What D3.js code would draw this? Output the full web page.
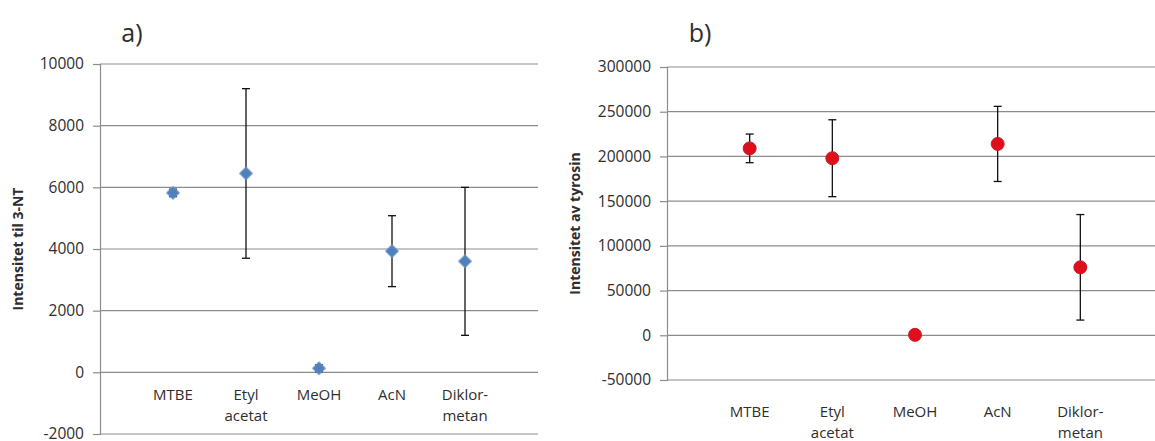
<!DOCTYPE html>
<html>
<head>
<meta charset="utf-8">
<script src="https://cdn.jsdelivr.net/npm/d3@7"></script>
<style>
  html, body { margin: 0; padding: 0; background: #fff; }
  svg { display: block; }
  text { font-family: "Open Sans", "Noto Sans", sans-serif; fill: #2e2e2e; }
</style>
</head>
<body>
<svg id="chart" width="1155" height="441"></svg>
<script>
// Solvents tested (label lines)
const solvents = [["MTBE"], ["Etyl", "acetat"], ["MeOH"], ["AcN"], ["Diklor-", "metan"]];

// a) 3-NT intensity: mean and error (±)
const ntMean = [5820, 6450, 130, 3930, 3600];
const ntErr  = [120, 2750, 110, 1150, 2400];
const ntTicks = [-2000, 0, 2000, 4000, 6000, 8000, 10000];

// b) tyrosine intensity: mean and error (±)
const tyrMean = [209000, 198000, 500, 214000, 76000];
const tyrErr  = [16000, 43000, 0, 42000, 59000];
const tyrTicks = [-50000, 0, 50000, 100000, 150000, 200000, 250000, 300000];

const svg = d3.select("#chart");

const defs = svg.append("defs");
const glow = defs.append("filter").attr("id", "soft").attr("x", "-50%").attr("y", "-50%").attr("width", "200%").attr("height", "200%");
glow.append("feGaussianBlur").attr("in", "SourceGraphic").attr("stdDeviation", 0.7);

// plain integer labels with an ASCII hyphen for negatives
const fmt = d => String(Math.round(d));

function panel(opts) {
  const g = svg.append("g");
  const x = d3.scaleLinear().domain([0, 6]).range(opts.xRange);
  const y = d3.scaleLinear().domain(opts.yDomain).range(opts.yRange);

  // horizontal gridlines
  g.selectAll(".grid").data(opts.ticks).join("line")
    .attr("x1", opts.xRange[0]).attr("x2", opts.xRange[1])
    .attr("y1", d => y(d)).attr("y2", d => y(d))
    .attr("stroke", "#8c8c8c").attr("stroke-width", 1.2);

  // y axis with outward ticks
  const yAxis = d3.axisLeft(y).tickValues(opts.ticks).tickSize(7).tickPadding(9).tickFormat(fmt);
  const ay = g.append("g").attr("transform", `translate(${opts.xRange[0]},0)`).call(yAxis);
  ay.select(".domain").attr("stroke", "#8c8c8c").attr("stroke-width", 1.2);
  ay.selectAll(".tick line").attr("stroke", "#8c8c8c").attr("stroke-width", 1.2);
  ay.selectAll(".tick text").style("font-size", "15.5px").attr("fill", "#2e2e2e");

  // y axis title
  const yMid = (opts.yRange[0] + opts.yRange[1]) / 2;
  g.append("text")
    .attr("transform", `translate(${opts.titleX},${yMid}) rotate(-90)`)
    .attr("text-anchor", "middle").attr("dy", "0.35em")
    .style("font-size", "14px").style("font-weight", "bold").attr("fill", "#111")
    .text(opts.yTitle);

  // panel letter
  g.append("text").attr("x", opts.letterX).attr("y", 42)
    .attr("text-anchor", "middle").style("font-size", "25px").attr("fill", "#111")
    .text(opts.letter);

  // category labels
  const lab = g.selectAll(".cat").data(solvents).join("text")
    .attr("text-anchor", "middle")
    .attr("transform", (d, i) => `translate(${x(i + 1)},${opts.labelY})`)
    .style("font-size", "15px");
  lab.selectAll("tspan").data(d => d).join("tspan")
    .attr("x", 0).attr("dy", (d, i) => i === 0 ? 0 : 21).text(d => d);

  // error bars
  const eb = g.selectAll(".err").data(opts.mean.map((m, i) => ({ i, m, e: opts.err[i] })))
    .join("g").filter(d => d.e > 0);
  eb.append("line")
    .attr("x1", d => x(d.i + 1)).attr("x2", d => x(d.i + 1))
    .attr("y1", d => y(d.m - d.e)).attr("y2", d => y(d.m + d.e))
    .attr("stroke", "#111").attr("stroke-width", 1.3);
  [-1, 1].forEach(s => {
    eb.append("line")
      .attr("x1", d => x(d.i + 1) - 4).attr("x2", d => x(d.i + 1) + 4)
      .attr("y1", d => y(d.m + s * d.e)).attr("y2", d => y(d.m + s * d.e))
      .attr("stroke", "#111").attr("stroke-width", 1.3);
  });

  return { g, x, y };
}

// a) 3-NT
const pa = panel({
  xRange: [100, 538], yDomain: [-2000, 10000], yRange: [434, 64], ticks: ntTicks,
  mean: ntMean, err: ntErr, yTitle: "Intensitet til 3-NT", titleX: 18,
  letter: "a)", letterX: 132, labelY: 400
});
pa.g.selectAll(".pt").data(ntMean).join("path")
  .attr("d", d3.symbol(d3.symbolSquare, 85))
  .attr("transform", (d, i) => `translate(${pa.x(i + 1)},${pa.y(d)}) rotate(45)`)
  .attr("fill", "#4f81bd").attr("stroke", "#6f97c9").attr("stroke-width", 0.8)
  .attr("filter", "url(#soft)");

// b) tyrosine
const pb = panel({
  xRange: [667, 1163], yDomain: [-50000, 300000], yRange: [380, 67], ticks: tyrTicks,
  mean: tyrMean, err: tyrErr, yTitle: "Intensitet av tyrosin", titleX: 575,
  letter: "b)", letterX: 700, labelY: 417
});
pb.g.selectAll(".pt").data(tyrMean).join("circle")
  .attr("cx", (d, i) => pb.x(i + 1)).attr("cy", d => pb.y(d)).attr("r", 6.5)
  .attr("fill", "#e0101e").attr("stroke", "#c0202a").attr("stroke-width", 1)
  .attr("filter", "url(#soft)");
</script>
</body>
</html>
